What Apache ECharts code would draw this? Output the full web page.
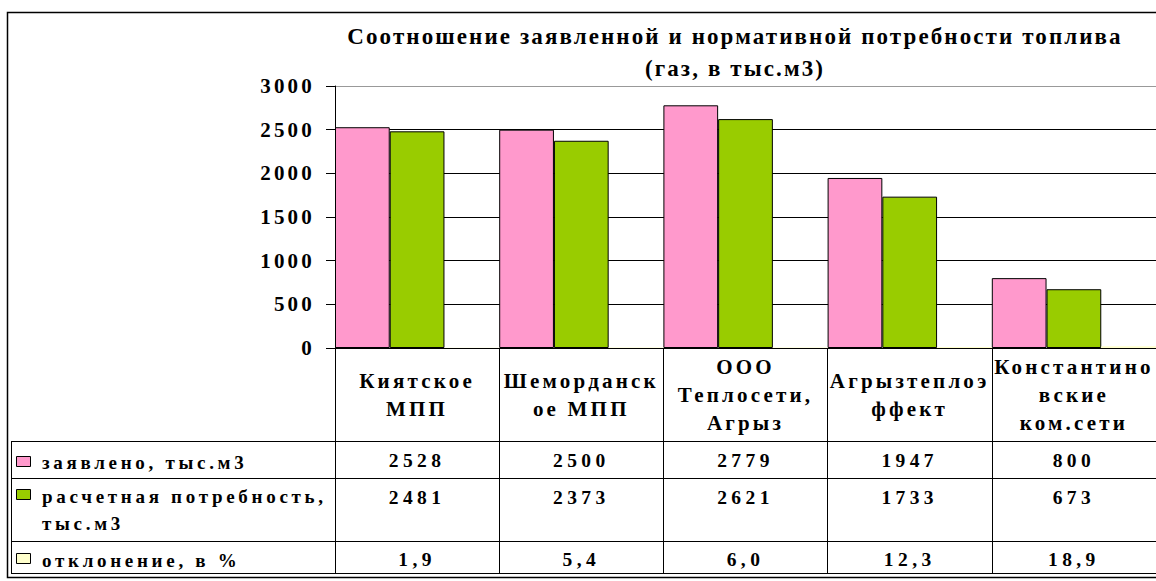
<!DOCTYPE html>
<html>
<head>
<meta charset="utf-8">
<title>Потребность топлива</title>
<script src="https://cdn.jsdelivr.net/npm/echarts@6/dist/echarts.min.js"></script>
<style>
  html, body { margin: 0; padding: 0; background: #fff; }
  #chart { width: 1156px; height: 581px; }
  /* original picture is stretched sideways - widen text a bit (by font size) */
  #chart text[style*="23px"] { letter-spacing: 2.1px; }
  #chart text[style*="21px"] { letter-spacing: 3.2px; }
  #chart text[style*="19px"] { letter-spacing: 3.7px; }
  #chart text[style*="19.5px"] { letter-spacing: 4.4px; }
</style>
</head>
<body>
<div id="chart"></div>
<script>
// данные
var categories = ['Киятское\nМПП', 'Шеморданск\nое МПП', 'ООО\nТеплосети,\nАгрыз', 'Агрызтеплоэ\nффект', 'Константино\nвские\nком.сети'];
var seriesNames = ['заявлено, тыс.м3', 'расчетная потребность,\nтыс.м3', 'отклонение, в %'];
var declared = [2528, 2500, 2779, 1947, 800];
var normative = [2481, 2373, 2621, 1733, 673];
var deviation = [1.9, 5.4, 6.0, 12.3, 18.9];
var yTicks = [0, 500, 1000, 1500, 2000, 2500, 3000];
var colors = ['#ff99cc', '#99cc00', '#ffffcc'];

var font = 'Liberation Serif, serif';
var seriesData = [declared, normative, deviation];

// строки таблицы под графиком
var rowMargins = [112, 149, 211];
var rowLines = [441, 478, 541, 573];
var rowKeyY = [462, 495, 559];
var rowTextY = [462, 496, 560];

function fmt(v, i) {
  return i == 2 ? v.toFixed(1).replace('.', ',') : String(v);
}

var myChart = echarts.init(document.getElementById('chart'), null, { renderer: 'svg' });

var xAxes = [{
  type: 'category',
  data: categories,
  position: 'bottom',
  axisLine: { lineStyle: { color: '#000', width: 1 } },
  axisTick: { show: true, length: 225, lineStyle: { color: '#000', width: 1 } },
  axisLabel: {
    interval: 0, margin: 46.5, verticalAlign: 'middle', lineHeight: 28,
    color: '#000', fontWeight: 'bold', fontSize: 21, fontFamily: font
  }
}];
seriesData.forEach(function (arr, i) {
  xAxes.push({
    type: 'category',
    data: arr.map(function (v) { return fmt(v, i); }),
    position: 'bottom',
    axisLine: { show: false },
    axisTick: { show: false },
    axisLabel: {
      interval: 0, margin: rowMargins[i], verticalAlign: 'middle',
      color: '#000', fontWeight: 'bold', fontSize: 19.5, fontFamily: font
    }
  });
});

var graphics = [
  { type: 'rect', shape: { x: 7.5, y: 12.5, width: 1200, height: 565 },
    style: { fill: 'none', stroke: '#000', lineWidth: 1.5 }, silent: true },
  { type: 'line', shape: { x1: 11.5, y1: rowLines[0], x2: 11.5, y2: rowLines[3] },
    style: { stroke: '#000', lineWidth: 1 }, silent: true }
];
rowLines.forEach(function (y) {
  graphics.push({ type: 'line', shape: { x1: 11, y1: y + 0.5, x2: 1180, y2: y + 0.5 },
    style: { stroke: '#000', lineWidth: 1 }, silent: true });
});
seriesNames.forEach(function (name, i) {
  graphics.push({ type: 'rect', shape: { x: 16.5, y: rowKeyY[i] - 5.5, width: 14, height: 10 },
    style: { fill: colors[i], stroke: '#000', lineWidth: 1 }, silent: true });
  graphics.push({ type: 'text', x: 42, y: rowTextY[i] - 13.5, silent: true,
    style: { text: name, fill: '#000', fontFamily: font, fontWeight: 'bold', fontSize: 19,
      lineHeight: 27, verticalAlign: 'top', align: 'left' } });
});

var option = {
  animation: false,
  backgroundColor: '#fff',
  title: {
    text: 'Соотношение заявленной и нормативной потребности топлива\n(газ, в тыс.м3)',
    left: 735, top: 20, padding: 0, textAlign: 'center',
    textStyle: { fontFamily: font, fontWeight: 'bold', fontSize: 23, lineHeight: 32, color: '#000' }
  },
  grid: { left: 335, right: -14, top: 86, bottom: 233, containLabel: false },
  xAxis: xAxes,
  yAxis: {
    type: 'value',
    min: yTicks[0], max: yTicks[yTicks.length - 1], interval: yTicks[1] - yTicks[0],
    axisLine: { show: true, lineStyle: { color: '#000', width: 1 } },
    axisTick: { show: true, length: 9, lineStyle: { color: '#000' } },
    axisLabel: {
      margin: 20, color: '#000', fontWeight: 'bold', fontSize: 21, fontFamily: font,
      formatter: function (v) { return String(v); }
    },
    splitLine: { lineStyle: { color: ['#000', '#000', '#000', '#000', '#000', '#000', '#999'], width: 1 } }
  },
  series: seriesData.map(function (arr, i) {
    return {
      name: seriesNames[i],
      type: 'bar',
      data: arr,
      barGap: '0%',
      barCategoryGap: '0%',
      // отклонение в % почти не видно на шкале тыс.м3, без рамки
      itemStyle: { color: colors[i], borderColor: '#000', borderWidth: i == 2 ? 0 : 1 }
    };
  }),
  graphic: graphics
};

myChart.setOption(option);
</script>
</body>
</html>
